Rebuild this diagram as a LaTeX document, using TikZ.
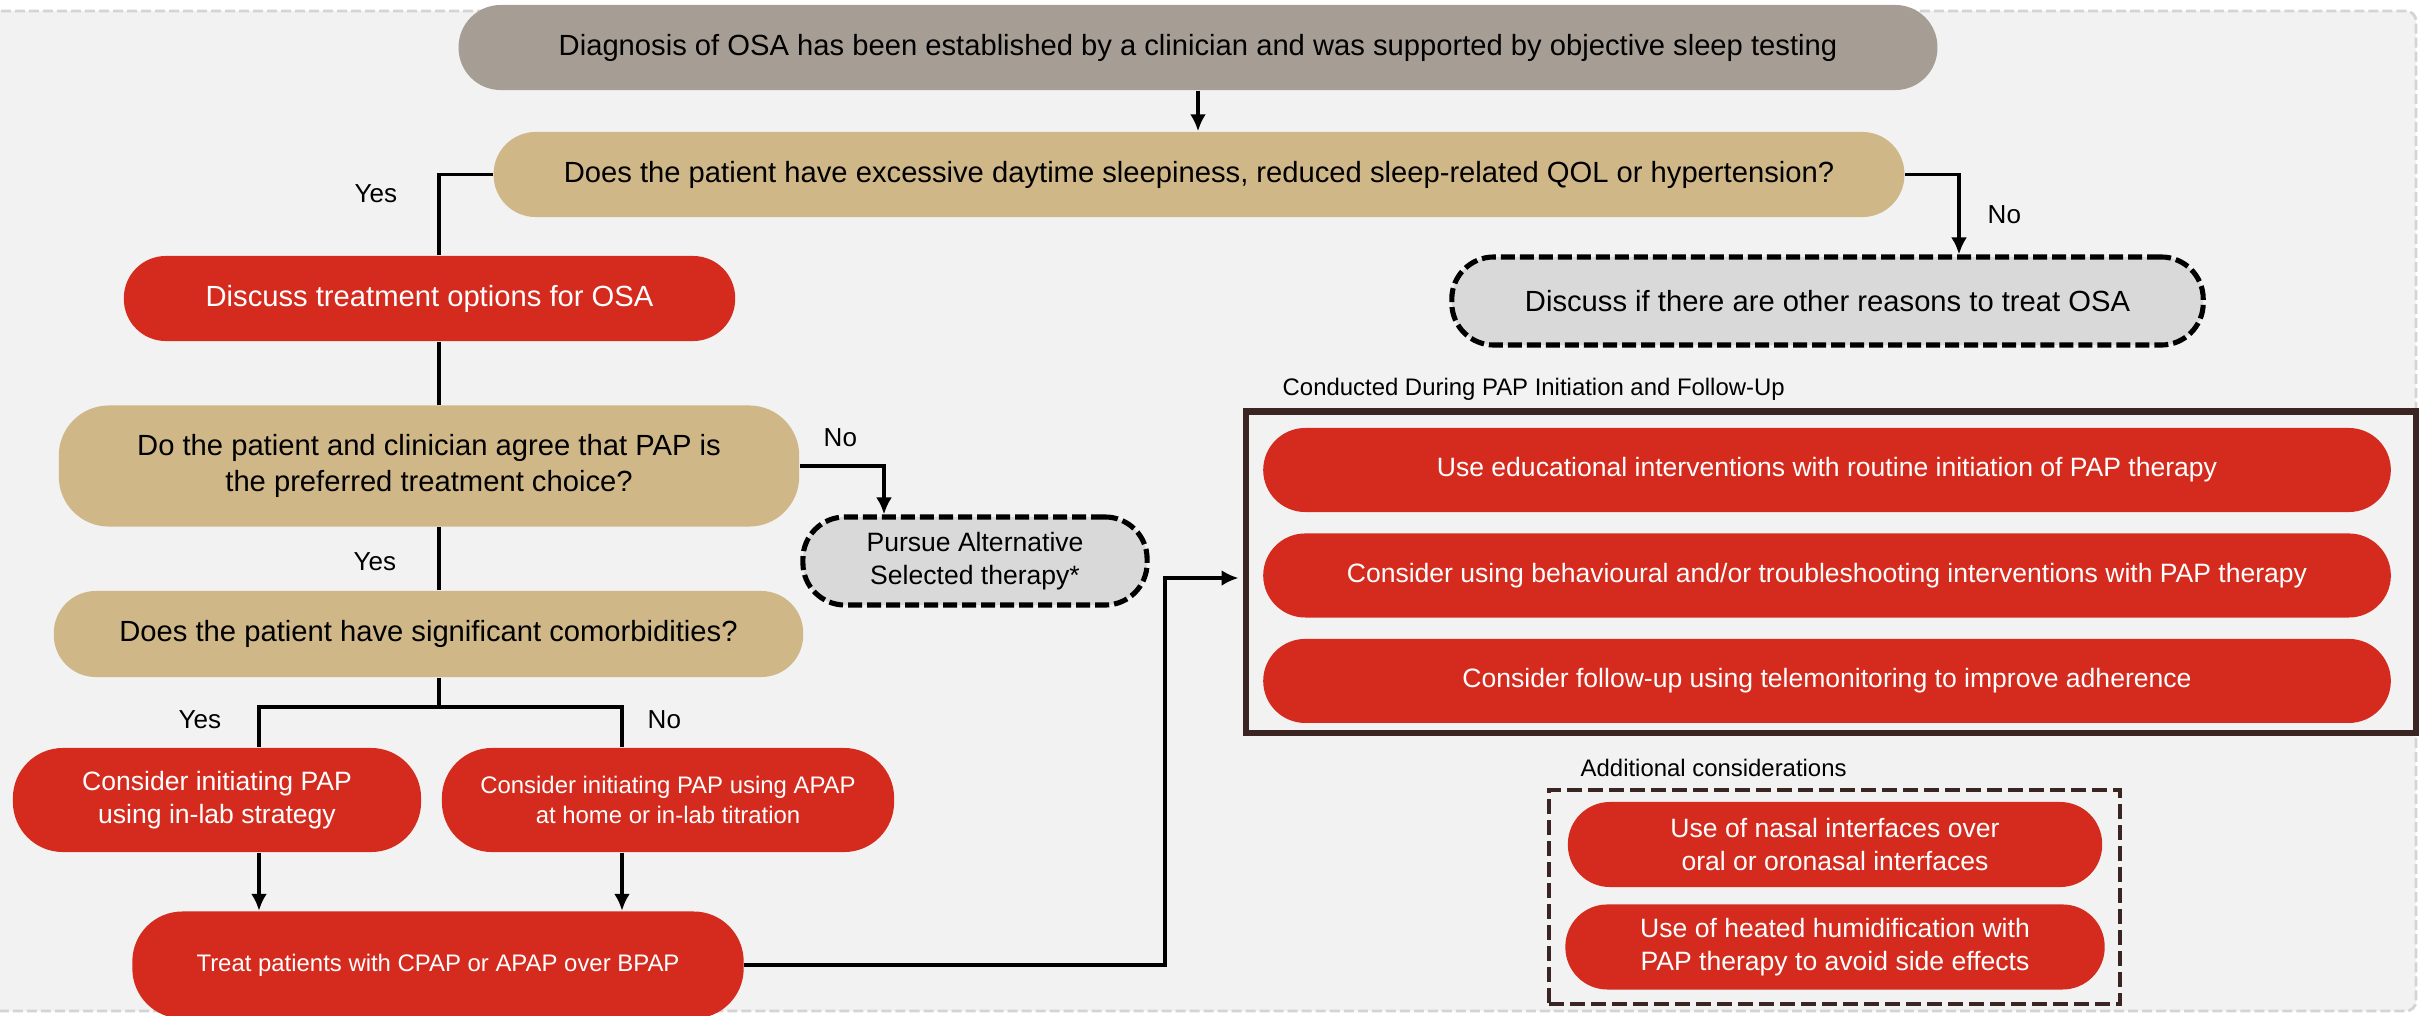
\documentclass[tikz,border=0pt]{standalone}
\usepackage{fontspec}
\setmainfont{Liberation Sans}
\usetikzlibrary{positioning}
\usetikzlibrary{arrows.meta}

\definecolor{pagegray}{HTML}{F2F2F2}
\definecolor{edgegray}{HTML}{D4D4D4}
\definecolor{stonegray}{HTML}{A69E94}
\definecolor{sandtan}{HTML}{CFB787}
\definecolor{alertred}{HTML}{D52B1E}
\definecolor{palegray}{HTML}{D9D9D9}
\definecolor{darkbrown}{HTML}{3B2522}

\newcommand{\fbig}{\fontsize{8.3}{10}\selectfont}
\newcommand{\fmid}{\fontsize{7.55}{9.2}\selectfont}
\newcommand{\fsml}{\fontsize{6.8}{8.6}\selectfont}

\begin{document}
\begin{tikzpicture}[x=0.01cm,y=-0.01cm,
  pill/.style={inner sep=0pt,align=center,rounded corners=0.42cm,minimum height=0.85cm},
  startbox/.style={pill,fill=stonegray,font=\fbig},
  askbox/.style={pill,fill=sandtan,font=\fbig},
  actbox/.style={pill,fill=alertred,text=white,font=\fmid},
  altbox/.style={pill,fill=palegray,draw=black,line width=1.45pt,dash pattern=on 0.14cm off 0.05cm},
  flow/.style={line width=1.1pt},
  arrowflow/.style={flow,-{Latex[length=0.17cm,width=0.16cm]}},
  tag/.style={font=\fontsize{7.4}{9}\selectfont,inner sep=0pt,anchor=base west},
  heading/.style={font=\fsml,inner sep=0pt,anchor=base west}]
 \useasboundingbox (0,0) rectangle (2422,1015);
 \draw[edgegray,fill=pagegray,line width=0.8pt,dash pattern=on 0.1cm off 0.04cm,rounded corners=0.1cm] (-10,11) rectangle (2416,1011);

 \node[startbox,minimum width=14.78cm] (diag) at (1198,47.5) {Diagnosis of OSA has been established by a clinician and was supported by objective sleep testing};
 \node[askbox,minimum width=14.1cm] (q1) at (1199,174.5) {Does the patient have excessive daytime sleepiness, reduced sleep-related QOL or hypertension?};
 \node[actbox,font=\fbig,minimum width=6.11cm] (options) at (429.5,298.5) {Discuss treatment options for OSA};
 \node[altbox,font=\fbig,minimum width=7.51cm,minimum height=0.88cm] (reasons) at (1827.5,301) {Discuss if there are other reasons to treat OSA};
 \node[askbox,minimum width=7.4cm,minimum height=1.21cm,rounded corners=0.5cm] (q2) at (429,466) {Do the patient and clinician agree that PAP is\\the preferred treatment choice?};
 \node[altbox,font=\fmid,minimum width=3.44cm,minimum height=0.88cm] (pursue) at (975,561) {Pursue Alternative\\Selected therapy*};
 \node[askbox,minimum width=7.49cm,minimum height=0.86cm] (q3) at (428.5,634) {Does the patient have significant comorbidities?};
 \node[actbox,minimum width=4.08cm,minimum height=1.04cm,rounded corners=0.5cm] (inlab) at (217,800) {Consider initiating PAP\\using in-lab strategy};
 \node[actbox,font=\fsml,minimum width=4.52cm,minimum height=1.04cm,rounded corners=0.5cm] (athome) at (668,800) {Consider initiating PAP using APAP\\at home or in-lab titration};
 \node[actbox,font=\fsml,minimum width=6.11cm,minimum height=1.07cm,rounded corners=0.5cm] (treat) at (438,965) {Treat patients with CPAP or APAP over BPAP};

 \node[heading] (conducted) at (1282,395) {Conducted During PAP Initiation and Follow-Up};
 \node[draw=darkbrown,line width=1.8pt,minimum width=11.695cm,minimum height=3.214cm,inner sep=0pt] (papframe) at (1830.75,572.3) {};
 \node[actbox,minimum width=11.27cm,minimum height=0.84cm] (edu) at (1827,470) {Use educational interventions with routine initiation of PAP therapy};
 \node[actbox,minimum width=11.27cm,minimum height=0.84cm,below=0.2cm of edu] (behav) {Consider using behavioural and/or troubleshooting interventions with PAP therapy};
 \node[actbox,minimum width=11.27cm,minimum height=0.84cm,below=0.2cm of behav] (tele) {Consider follow-up using telemonitoring to improve adherence};

 \node[heading] (additional) at (1580,776) {Additional considerations};
 \node[draw=darkbrown,line width=1.2pt,dash pattern=on 0.15cm off 0.06cm,minimum width=5.71cm,minimum height=2.137cm,inner sep=0pt] (addframe) at (1834.5,896.9) {};
 \node[actbox,minimum width=5.34cm,minimum height=0.85cm] (nasal) at (1835,844.5) {Use of nasal interfaces over\\oral or oronasal interfaces};
 \node[actbox,minimum width=5.39cm,minimum height=0.85cm,below=0.16cm of nasal] (humid) {Use of heated humidification with\\PAP therapy to avoid side effects};

 \coordinate (spine) at (439,0);
 \coordinate (noturn) at (1959,0);
 \coordinate (altturn) at (884,0);
 \coordinate (splitL) at (259,707);
 \coordinate (splitR) at (622,707);
 \coordinate (bend) at (1165,578);

 \draw[arrowflow] (diag.south) -- (diag.south |- q1.north);
 \draw[flow] (q1.west) -| (spine |- options.north);
 \draw[arrowflow] (q1.east) -| (noturn |- reasons.north);
 \draw[flow] (spine |- options.south) -- (spine |- q2.north);
 \draw[arrowflow] (q2.east) -| (altturn |- pursue.north);
 \draw[flow] (spine |- q2.south) -- (spine |- q3.north);
 \draw[flow] (spine |- q3.south) -- (spine |- splitL);
 \draw[flow] (splitL |- inlab.north) -- (splitL) -- (splitR) -- (splitR |- athome.north);
 \draw[arrowflow] (splitL |- inlab.south) -- (splitL |- treat.north);
 \draw[arrowflow] (splitR |- athome.south) -- (splitR |- treat.north);
 \draw[arrowflow,shorten >=0.04cm] (treat.east) -| (bend) -- (bend -| papframe.west);

 \node[tag] (yes1) at (354,202) {Yes};
 \node[tag] (no1) at (1987,223) {No};
 \node[tag] (no2) at (823,446) {No};
 \node[tag] (yes2) at (353,570) {Yes};
 \node[tag] (yes3) at (178,728) {Yes};
 \node[tag] (no3) at (647,728) {No};
\end{tikzpicture}
\end{document}
